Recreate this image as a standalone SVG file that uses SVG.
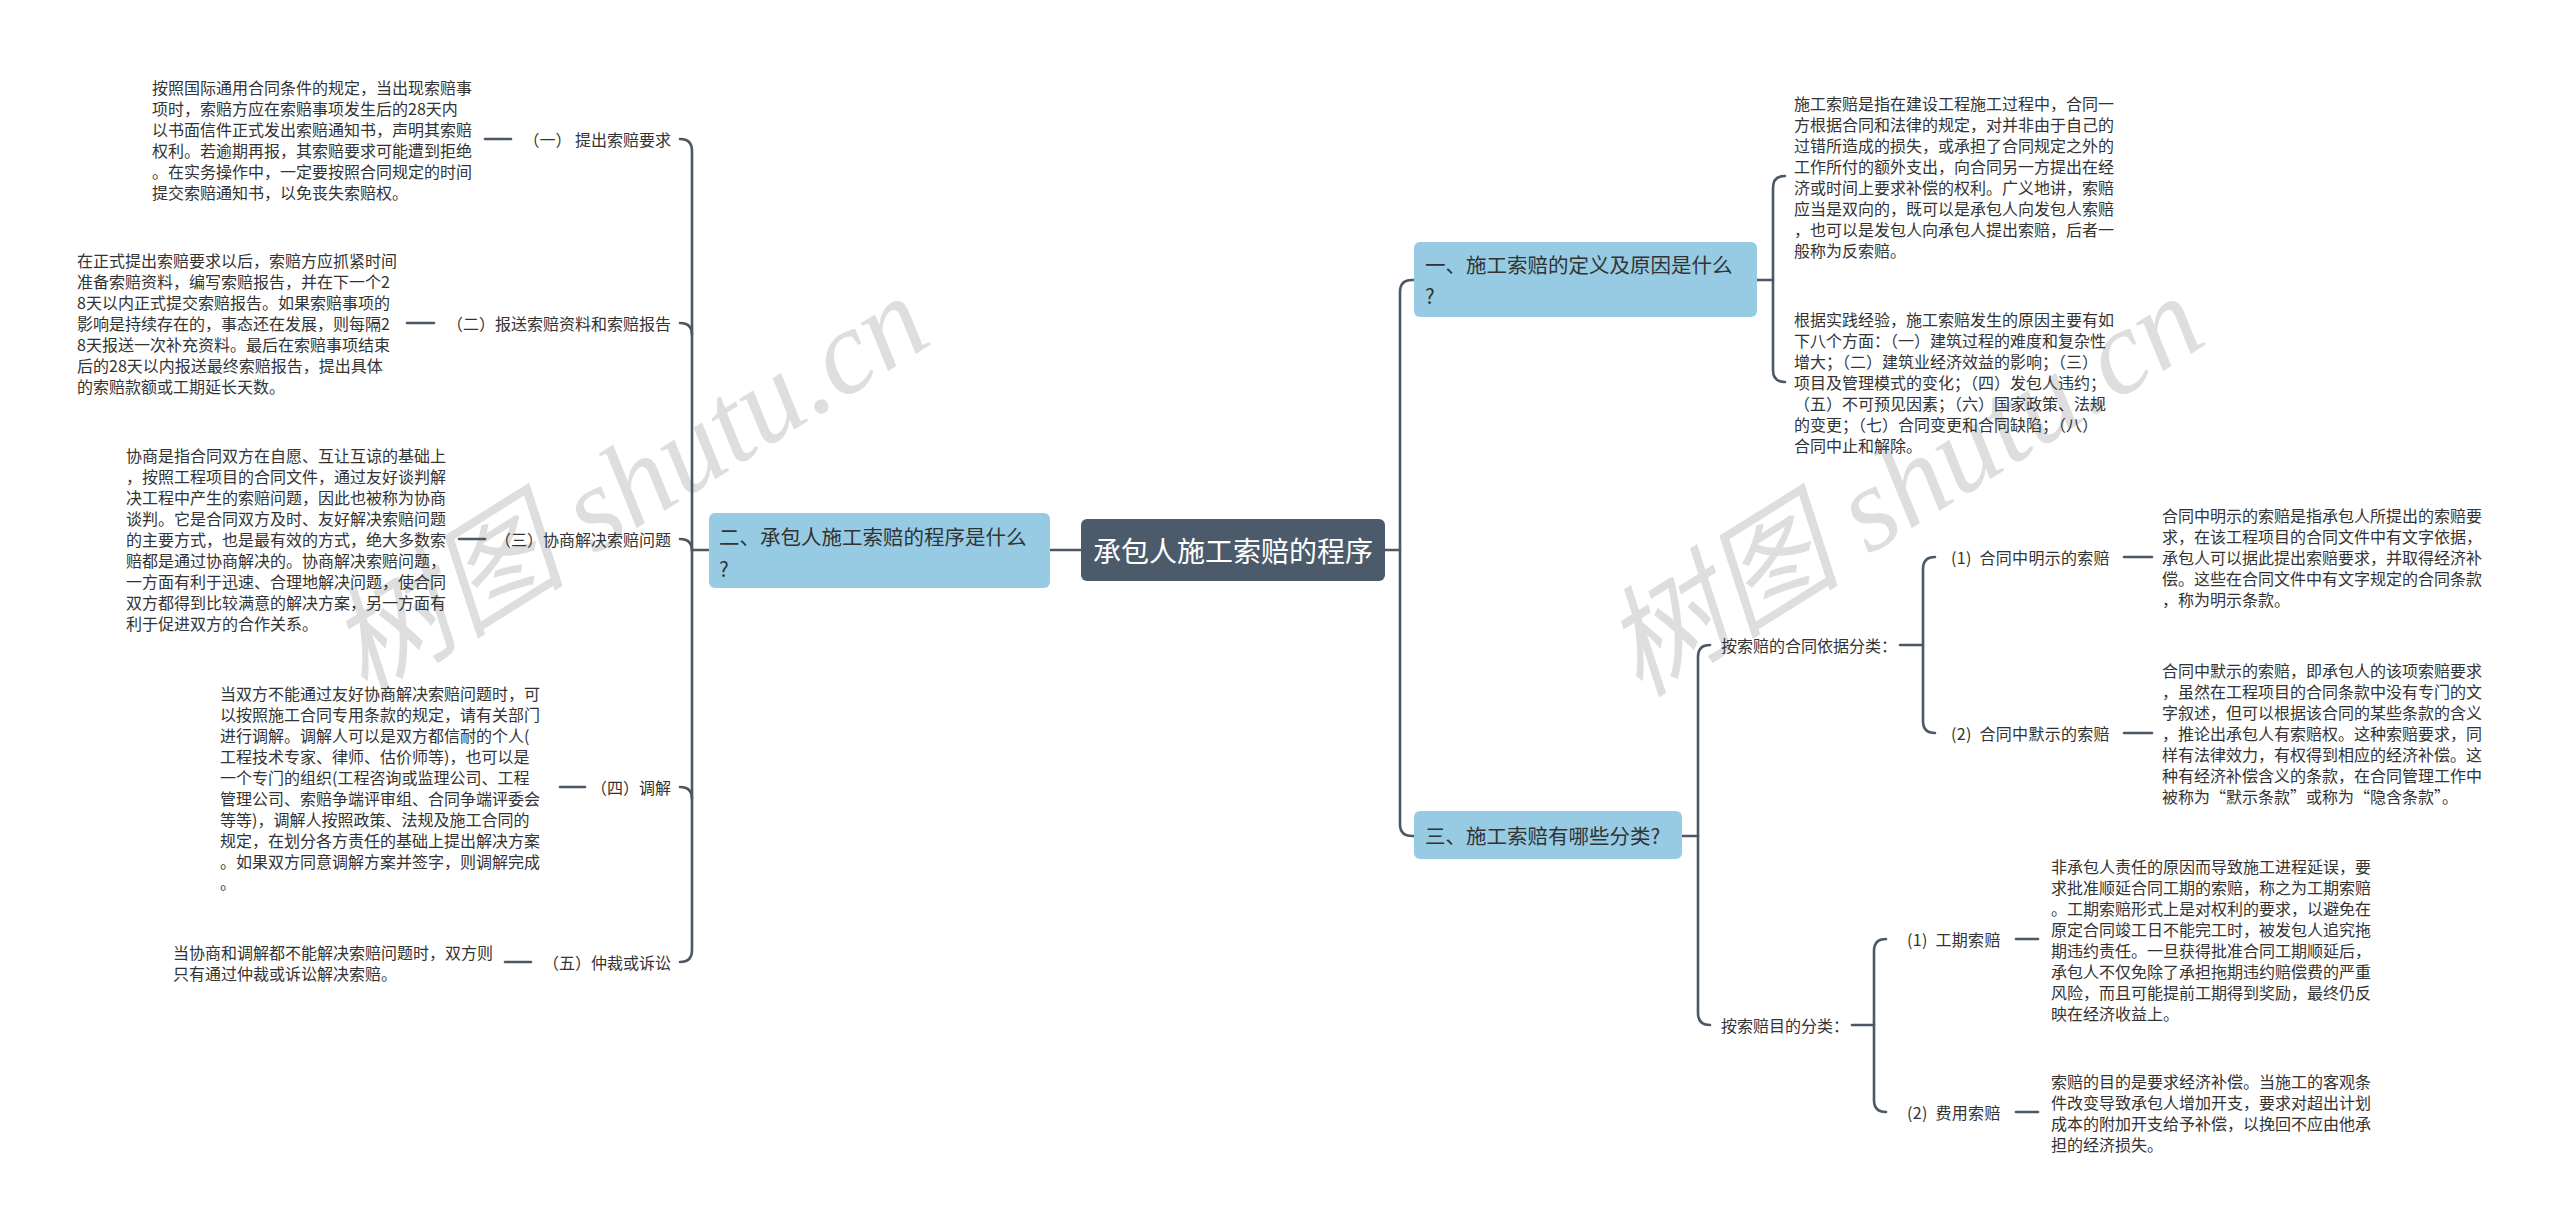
<svg xmlns="http://www.w3.org/2000/svg" width="2560" height="1231" viewBox="0 0 2560 1231">
<style>
.bg{fill:#ffffff}
.wm{font-family:"Liberation Serif","Noto Sans CJK SC",serif;font-style:italic;font-size:120px;fill:#dedede}
.conn{fill:none;stroke:#4c5866;stroke-width:2.6;stroke-linecap:round}
.root{fill:#4b5b6b}
.branch{fill:#96cbe3}
.rt{font-family:"Noto Sans CJK SC","Noto Sans",sans-serif;font-size:28px;fill:#ffffff;dominant-baseline:central;text-anchor:middle}
.bt{font-family:"Noto Sans CJK SC","Noto Sans",sans-serif;font-size:20.5px;fill:#333333;dominant-baseline:central}
.lb{font-family:"Noto Sans CJK SC","Noto Sans",sans-serif;font-size:16px;fill:#333333;dominant-baseline:central}
.lbw{word-spacing:4px;letter-spacing:0.3px}
.lf{font-family:"Noto Sans CJK SC","Noto Sans",sans-serif;font-size:16px;fill:#333333;dominant-baseline:central}
.end{text-anchor:end}
</style>
<rect class="bg" x="0" y="0" width="2560" height="1231"/>
<g id="watermarks">
<text class="wm" transform="translate(650,520) rotate(-32)" text-anchor="middle">树图 shutu.cn</text>
<text class="wm" transform="translate(1925,520) rotate(-32)" text-anchor="middle">树图 shutu.cn</text>
</g>
<g id="connectors">
<path class="conn" d="M1081,550 L1050,550"/>
<path class="conn" d="M709,550 L692,550"/>
<path class="conn" d="M680,139 Q692,139 692,151 L692,950 Q692,962 680,962"/>
<path class="conn" d="M680,323 Q692,323 692,335"/>
<path class="conn" d="M680,539 Q692,539 692,551"/>
<path class="conn" d="M680,787 Q692,787 692,799"/>
<path class="conn" d="M485,139 L511,139"/>
<path class="conn" d="M407,323 L434,323"/>
<path class="conn" d="M459,539 L485,539"/>
<path class="conn" d="M560,787 L585,787"/>
<path class="conn" d="M505,962 L531,962"/>
<path class="conn" d="M1385,550 L1400,550"/>
<path class="conn" d="M1414,280 L1412,280 Q1400,280 1400,292 L1400,824 Q1400,836 1412,836 L1414,836"/>
<path class="conn" d="M1757,280 L1773,280"/>
<path class="conn" d="M1785,176 Q1773,176 1773,188 L1773,370 Q1773,382 1785,382"/>
<path class="conn" d="M1682,836 L1698,836"/>
<path class="conn" d="M1710,645 Q1698,645 1698,657 L1698,1013 Q1698,1025 1710,1025"/>
<path class="conn" d="M1900,645 L1923,645"/>
<path class="conn" d="M1935,557 Q1923,557 1923,569 L1923,721 Q1923,733 1935,733"/>
<path class="conn" d="M2124,557 L2152,557"/>
<path class="conn" d="M2124,733 L2152,733"/>
<path class="conn" d="M1852,1025 L1874,1025"/>
<path class="conn" d="M1886,939 Q1874,939 1874,951 L1874,1100 Q1874,1112 1886,1112"/>
<path class="conn" d="M2016,939 L2038,939"/>
<path class="conn" d="M2016,1112 L2038,1112"/>
</g>
<g id="root">
<rect class="root" x="1081" y="519" width="304" height="62" rx="6"/>
<text class="rt" x="1233" y="550">承包人施工索赔的程序</text>
</g>
<g id="b2">
<rect class="branch" x="709" y="513" width="341" height="75" rx="6"/>
<text class="bt" x="719"><tspan x="719" y="536">二、承包人施工索赔的程序是什么</tspan><tspan x="719" y="568">?</tspan></text>
</g>
<g id="b1">
<rect class="branch" x="1414" y="242" width="343" height="75" rx="6"/>
<text class="bt"><tspan x="1425" y="264">一、施工索赔的定义及原因是什么</tspan><tspan x="1425" y="295">?</tspan></text>
</g>
<g id="b3">
<rect class="branch" x="1414" y="811" width="268" height="48" rx="6"/>
<text class="bt" x="1425" y="835">三、施工索赔有哪些分类?</text>
</g>
<g id="l1">
<text class="lb end" x="671" y="139">（一） 提出索赔要求</text>
</g>
<g id="l1-leaf">
<text class="lf"><tspan x="152" y="86.5">按照国际通用合同条件的规定，当出现索赔事</tspan><tspan x="152" y="107.5">项时，索赔方应在索赔事项发生后的28天内</tspan><tspan x="152" y="128.5">以书面信件正式发出索赔通知书，声明其索赔</tspan><tspan x="152" y="149.5">权利。若逾期再报，其索赔要求可能遭到拒绝</tspan><tspan x="152" y="170.5">。在实务操作中，一定要按照合同规定的时间</tspan><tspan x="152" y="191.5">提交索赔通知书，以免丧失索赔权。</tspan></text>
</g>
<g id="l2">
<text class="lb end" x="671" y="323">（二）报送索赔资料和索赔报告</text>
</g>
<g id="l2-leaf">
<text class="lf"><tspan x="77" y="260">在正式提出索赔要求以后，索赔方应抓紧时间</tspan><tspan x="77" y="281">准备索赔资料，编写索赔报告，并在下一个2</tspan><tspan x="77" y="302">8天以内正式提交索赔报告。如果索赔事项的</tspan><tspan x="77" y="323">影响是持续存在的，事态还在发展，则每隔2</tspan><tspan x="77" y="344">8天报送一次补充资料。最后在索赔事项结束</tspan><tspan x="77" y="365">后的28天以内报送最终索赔报告，提出具体</tspan><tspan x="77" y="386">的索赔款额或工期延长天数。</tspan></text>
</g>
<g id="l3">
<text class="lb end" x="671" y="539">（三）协商解决索赔问题</text>
</g>
<g id="l3-leaf">
<text class="lf"><tspan x="126" y="455">协商是指合同双方在自愿、互让互谅的基础上</tspan><tspan x="126" y="476">，按照工程项目的合同文件，通过友好谈判解</tspan><tspan x="126" y="497">决工程中产生的索赔问题，因此也被称为协商</tspan><tspan x="126" y="518">谈判。它是合同双方及时、友好解决索赔问题</tspan><tspan x="126" y="539">的主要方式，也是最有效的方式，绝大多数索</tspan><tspan x="126" y="560">赔都是通过协商解决的。协商解决索赔问题，</tspan><tspan x="126" y="581">一方面有利于迅速、合理地解决问题，使合同</tspan><tspan x="126" y="602">双方都得到比较满意的解决方案，另一方面有</tspan><tspan x="126" y="623">利于促进双方的合作关系。</tspan></text>
</g>
<g id="l4">
<text class="lb end" x="671" y="787">（四）调解</text>
</g>
<g id="l4-leaf">
<text class="lf"><tspan x="220" y="692.5">当双方不能通过友好协商解决索赔问题时，可</tspan><tspan x="220" y="713.5">以按照施工合同专用条款的规定，请有关部门</tspan><tspan x="220" y="734.5">进行调解。调解人可以是双方都信耐的个人(</tspan><tspan x="220" y="755.5">工程技术专家、律师、估价师等)，也可以是</tspan><tspan x="220" y="776.5">一个专门的组织(工程咨询或监理公司、工程</tspan><tspan x="220" y="797.5">管理公司、索赔争端评审组、合同争端评委会</tspan><tspan x="220" y="818.5">等等)，调解人按照政策、法规及施工合同的</tspan><tspan x="220" y="839.5">规定，在划分各方责任的基础上提出解决方案</tspan><tspan x="220" y="860.5">。如果双方同意调解方案并签字，则调解完成</tspan><tspan x="220" y="881.5">。</tspan></text>
</g>
<g id="l5">
<text class="lb end" x="671" y="962">（五）仲裁或诉讼</text>
</g>
<g id="l5-leaf">
<text class="lf"><tspan x="173" y="951.5">当协商和调解都不能解决索赔问题时，双方则</tspan><tspan x="173" y="972.5">只有通过仲裁或诉讼解决索赔。</tspan></text>
</g>
<g id="r1a">
<text class="lf"><tspan x="1794" y="102.5">施工索赔是指在建设工程施工过程中，合同一</tspan><tspan x="1794" y="123.5">方根据合同和法律的规定，对并非由于自己的</tspan><tspan x="1794" y="144.5">过错所造成的损失，或承担了合同规定之外的</tspan><tspan x="1794" y="165.5">工作所付的额外支出，向合同另一方提出在经</tspan><tspan x="1794" y="186.5">济或时间上要求补偿的权利。广义地讲，索赔</tspan><tspan x="1794" y="207.5">应当是双向的，既可以是承包人向发包人索赔</tspan><tspan x="1794" y="228.5">，也可以是发包人向承包人提出索赔，后者一</tspan><tspan x="1794" y="249.5">般称为反索赔。</tspan></text>
</g>
<g id="r1b">
<text class="lf"><tspan x="1794" y="319">根据实践经验，施工索赔发生的原因主要有如</tspan><tspan x="1794" y="340">下八个方面：（一）建筑过程的难度和复杂性</tspan><tspan x="1794" y="361">增大；（二）建筑业经济效益的影响；（三）</tspan><tspan x="1794" y="382">项目及管理模式的变化；（四）发包人违约；</tspan><tspan x="1794" y="403">（五）不可预见因素；（六）国家政策、法规</tspan><tspan x="1794" y="424">的变更；（七）合同变更和合同缺陷；（八）</tspan><tspan x="1794" y="445">合同中止和解除。</tspan></text>
</g>
<g id="r3a">
<text class="lb" x="1721" y="645">按索赔的合同依据分类：</text>
</g>
<g id="r3a1">
<text class="lb lbw" x="1951" y="557">(1) 合同中明示的索赔</text>
</g>
<g id="r3a1-leaf">
<text class="lf"><tspan x="2162" y="515">合同中明示的索赔是指承包人所提出的索赔要</tspan><tspan x="2162" y="536">求，在该工程项目的合同文件中有文字依据，</tspan><tspan x="2162" y="557">承包人可以据此提出索赔要求，并取得经济补</tspan><tspan x="2162" y="578">偿。这些在合同文件中有文字规定的合同条款</tspan><tspan x="2162" y="599">，称为明示条款。</tspan></text>
</g>
<g id="r3a2">
<text class="lb lbw" x="1951" y="733">(2) 合同中默示的索赔</text>
</g>
<g id="r3a2-leaf">
<text class="lf"><tspan x="2162" y="670">合同中默示的索赔，即承包人的该项索赔要求</tspan><tspan x="2162" y="691">，虽然在工程项目的合同条款中没有专门的文</tspan><tspan x="2162" y="712">字叙述，但可以根据该合同的某些条款的含义</tspan><tspan x="2162" y="733">，推论出承包人有索赔权。这种索赔要求，同</tspan><tspan x="2162" y="754">样有法律效力，有权得到相应的经济补偿。这</tspan><tspan x="2162" y="775">种有经济补偿含义的条款，在合同管理工作中</tspan><tspan x="2162" y="796">被称为“默示条款”或称为“隐含条款”。</tspan></text>
</g>
<g id="r3b">
<text class="lb" x="1721" y="1025">按索赔目的分类：</text>
</g>
<g id="r3b1">
<text class="lb lbw" x="1907" y="939">(1) 工期索赔</text>
</g>
<g id="r3b1-leaf">
<text class="lf"><tspan x="2051" y="865.5">非承包人责任的原因而导致施工进程延误，要</tspan><tspan x="2051" y="886.5">求批准顺延合同工期的索赔，称之为工期索赔</tspan><tspan x="2051" y="907.5">。工期索赔形式上是对权利的要求，以避免在</tspan><tspan x="2051" y="928.5">原定合同竣工日不能完工时，被发包人追究拖</tspan><tspan x="2051" y="949.5">期违约责任。一旦获得批准合同工期顺延后，</tspan><tspan x="2051" y="970.5">承包人不仅免除了承担拖期违约赔偿费的严重</tspan><tspan x="2051" y="991.5">风险，而且可能提前工期得到奖励，最终仍反</tspan><tspan x="2051" y="1012.5">映在经济收益上。</tspan></text>
</g>
<g id="r3b2">
<text class="lb lbw" x="1907" y="1112">(2) 费用索赔</text>
</g>
<g id="r3b2-leaf">
<text class="lf"><tspan x="2051" y="1080.5">索赔的目的是要求经济补偿。当施工的客观条</tspan><tspan x="2051" y="1101.5">件改变导致承包人增加开支，要求对超出计划</tspan><tspan x="2051" y="1122.5">成本的附加开支给予补偿，以挽回不应由他承</tspan><tspan x="2051" y="1143.5">担的经济损失。</tspan></text>
</g>
</svg>
